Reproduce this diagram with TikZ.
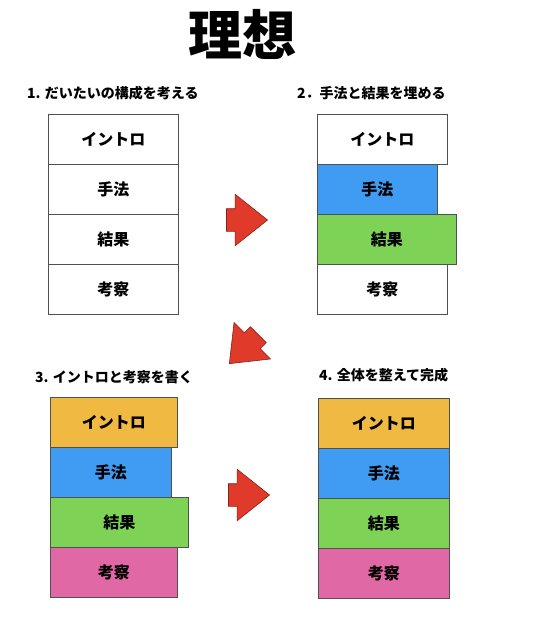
\documentclass[tikz,border=0pt]{standalone}
\usepackage{fontspec}
\setmainfont{Noto Sans CJK JP}
\usetikzlibrary{shapes.arrows}
\definecolor{introC}{RGB}{240,186,66}
\definecolor{methodC}{RGB}{64,156,243}
\definecolor{resultC}{RGB}{126,210,86}
\definecolor{discC}{RGB}{224,104,164}
\definecolor{arrowR}{RGB}{224,58,42}
\definecolor{edgeG}{RGB}{80,80,80}

\begin{document}
\begin{tikzpicture}[
    x=1pt,y=-1pt,
    part/.style={draw=edgeG,line width=0.9pt,anchor=north west,inner sep=0pt,
      minimum height=50pt,font=\fontsize{16}{16}\selectfont\bfseries},
    steplbl/.style={anchor=west,inner sep=0pt,font=\fontsize{14}{14}\selectfont\bfseries},
    bigarrow/.style={single arrow,draw=arrowR!60!black,fill=arrowR,line width=0.6pt,
      inner xsep=0pt,inner ysep=11pt,minimum height=41pt,anchor=tip,
      single arrow head extend=14.5pt,single arrow tip angle=77}
  ]
  \useasboundingbox (0,0) rectangle (540,625);

  % title
  \node[font=\fontsize{54}{54}\selectfont\bfseries] (title) at (242,34) {理想};

  % step labels
  \node[steplbl] (s1) at (27,93) {1. だいたいの構成を考える};
  \node[steplbl] (s2) at (297,93) {2．手法と結果を埋める};
  \node[steplbl] (s3) at (35,377) {3. イントロと考察を書く};
  \node[steplbl] (s4) at (319,375) {4. 全体を整えて完成};

  % 1: outline only
  \node[part,minimum width=130pt] (a1) at (48,114) {イントロ};
  \node[part,minimum width=130pt] (a2) at (48,164) {手法};
  \node[part,minimum width=130pt] (a3) at (48,214) {結果};
  \node[part,minimum width=130pt] (a4) at (48,264) {考察};

  % 2: method and result filled
  \node[part,minimum width=130pt] (b1) at (317,114) {イントロ};
  \node[part,fill=methodC,minimum width=120pt] (b2) at (317,164) {手法};
  \node[part,fill=resultC,minimum width=139pt] (b3) at (317,214) {結果};
  \node[part,minimum width=130pt] (b4) at (317,264) {考察};

  % 3: intro and discussion filled
  \node[part,fill=introC,minimum width=127pt] (c1) at (50,397) {イントロ};
  \node[part,fill=methodC,minimum width=121pt] (c2) at (50,447) {手法};
  \node[part,fill=resultC,minimum width=138pt] (c3) at (50,497) {結果};
  \node[part,fill=discC,minimum width=127pt] (c4) at (50,547) {考察};

  % 4: finished
  \node[part,fill=introC,minimum width=131pt] (d1) at (318,398) {イントロ};
  \node[part,fill=methodC,minimum width=131pt] (d2) at (318,448) {手法};
  \node[part,fill=resultC,minimum width=131pt] (d3) at (318,498) {結果};
  \node[part,fill=discC,minimum width=131pt] (d4) at (318,548) {考察};

  % arrows between the steps (placed by their tips)
  \node[bigarrow] (ar1) at (268,220) {};
  \node[bigarrow,rotate=225] (ar2) at (229,364) {};
  \node[bigarrow] (ar3) at (270,495) {};
\end{tikzpicture}
\end{document}
